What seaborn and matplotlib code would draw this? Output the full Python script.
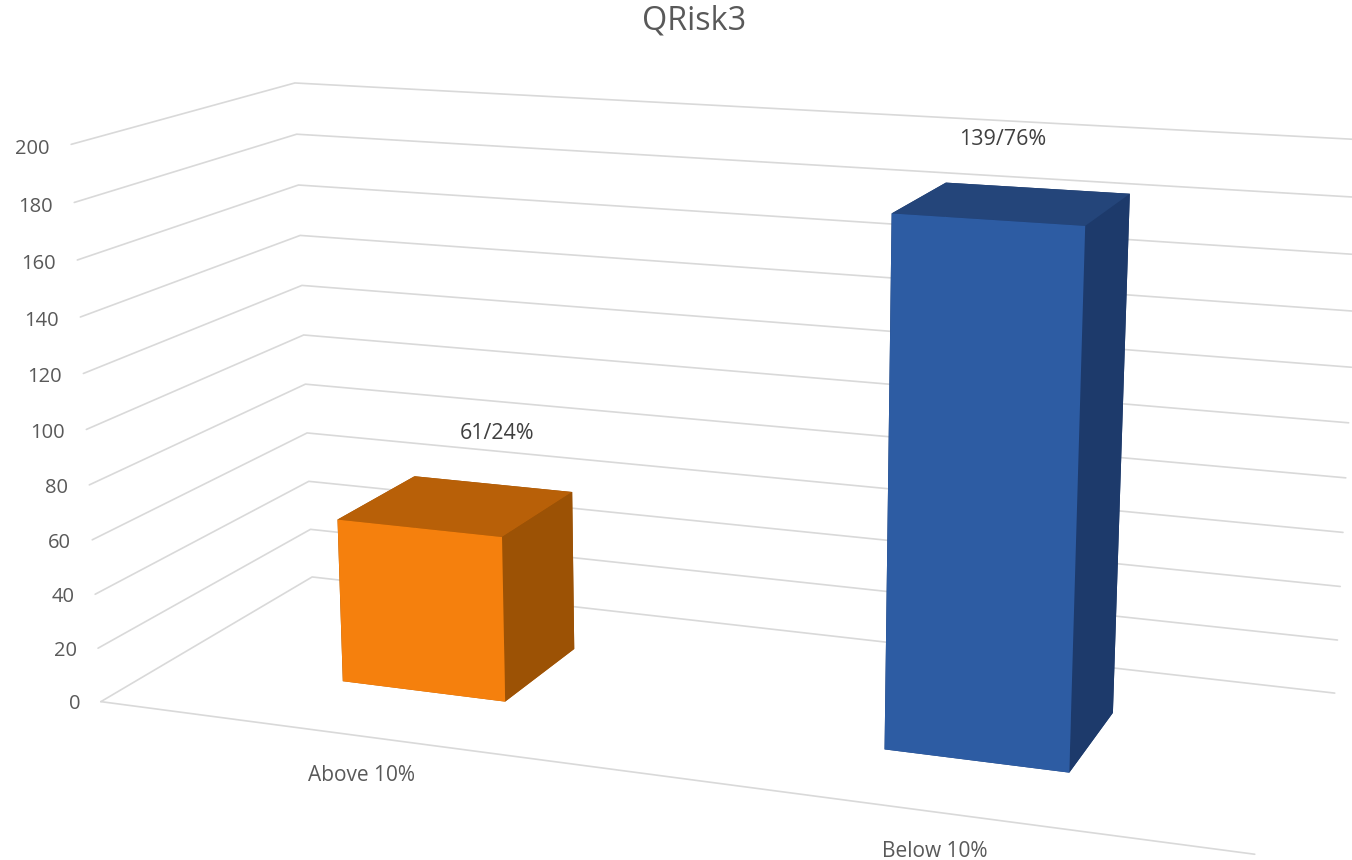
import matplotlib
matplotlib.use('Agg')
import matplotlib.pyplot as plt
import seaborn as sns
from mpl_toolkits.mplot3d import proj3d

# ---- data ----
title = "QRisk3"
categories = ["Above 10%", "Below 10%"]
bar_heights = [61, 185]
bar_labels = ["61/24%", "139/76%"]
z_ticks = [0, 20, 40, 60, 80, 100, 120, 140, 160, 180, 200]

# ---- styles ----
front_colors = ["#F5800D", "#2D5CA3"]
top_colors = ["#B86008", "#24457A"]
side_colors = ["#9C5205", "#1D3A6B"]
grid_color = "#D9D9D9"
text_color = "#595959"
label_color = "#404040"

sns.set_theme(style="white")
plt.rcParams['font.family'] = ['Open Sans', 'DejaVu Sans']

W, H = 1352, 860
fig = plt.figure(figsize=(W / 100, H / 100), dpi=100)

# camera and axes placement calibrated against the reference
scale, cx, cy = 3502.194, 723.257, 426.409
view_lo, view_span = -0.095, 0.185
side = scale * view_span
left = cx + view_lo * scale
bottom = H - (cy - view_lo * scale)
ax = fig.add_axes([left / W, bottom / H, side / W, side / H], projection='3d')
ax.computed_zorder = False
ax.view_init(14.2818, -69.7388, 0.0271)
ax.set_proj_type('persp', focal_length=0.8762)
ax.set_box_aspect((1, 0.389, 0.4842), zoom=2.0869)

# gridlines on the two walls, plus the front edge of the floor
wall_end, floor_end = 0.994, 0.998
for z in z_ticks:
    ax.plot([0, 0, wall_end], [0, 1, 1], [z, z, z], color=grid_color, lw=1.2,
            zorder=1, solid_joinstyle='miter', clip_on=False)
ax.plot([0, floor_end], [0, 0], [0, 0], color=grid_color, lw=1.2, zorder=1,
        clip_on=False)

# bars
x_centers = [0.249, 0.747]
bar_w, y0, bar_d = 0.156, 0.309, 0.392
for i, h in enumerate(bar_heights):
    faces = [top_colors[i], top_colors[i], front_colors[i],
             side_colors[i], side_colors[i], side_colors[i]]
    poly = ax.bar3d(x_centers[i] - bar_w / 2, y0, 0, bar_w, bar_d, h, color=faces,
                    shade=False, linewidth=0, zorder=3 + i)
    poly.set_clip_on(False)

ax.set_xlim(0, 1)
ax.set_ylim(0, 1)
ax.set_zlim(0, 200)
ax.set_xticks([])
ax.set_yticks([])
ax.set_zticks([])
ax.set_axis_off()


def label(x, y, z, s, **kw):
    """Place a flat text at the projected position of a point in chart space."""
    u, v, _ = proj3d.proj_transform(x, y, z, ax.get_proj())
    ax.text2D(u, v, s, transform=ax.transData, va='center', zorder=6, **kw)


# tick labels
for z in z_ticks:
    label(-0.021, 0, z - 2, str(z), ha='right', fontsize=14.5, color=text_color)

# category labels
cat_x = [0.2925, 0.7705]
cat_y = [-0.215, -0.2]
for xc, yc, c in zip(cat_x, cat_y, categories):
    label(xc, yc, 0, c, ha='center', fontsize=15, color=text_color)

# value labels
lab_x = [0.29, 0.738]
lab_z = [89.8, 206.2]
for xc, zc, t in zip(lab_x, lab_z, bar_labels):
    label(xc, 0.5, zc, t, ha='center', fontsize=15.5, color=label_color)

fig.text(694 / W, 1 - 21 / H, title, ha='center', va='center',
         fontsize=23.3, color=text_color)

fig.savefig('out.png', dpi=100, facecolor='white')
